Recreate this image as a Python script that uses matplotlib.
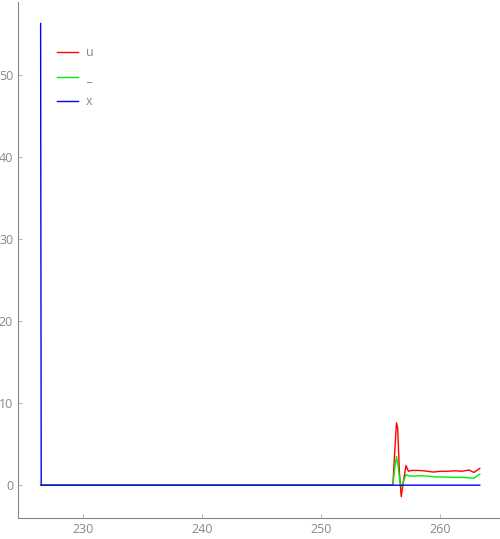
import matplotlib
matplotlib.use('Agg')
import matplotlib.pyplot as plt

# series values
u_x = [226.4, 256.0, 256.15, 256.3, 256.4, 256.55, 256.7, 256.9, 257.1, 257.3, 257.6,
       258.1, 258.6, 259.4, 260.0, 260.6, 261.2, 261.8, 262.4, 262.8, 263.0, 263.3]
u_y = [0, 0, 4.0, 7.6, 7.0, 1.5, -1.4, 0.6, 2.4, 1.7, 1.8,
       1.8, 1.75, 1.6, 1.7, 1.7, 1.75, 1.7, 1.85, 1.55, 1.75, 2.05]

g_x = [226.4, 256.0, 256.15, 256.3, 256.45, 256.6, 256.75, 256.9, 257.1, 257.3, 257.7,
       258.3, 259.0, 259.6, 260.2, 261.0, 261.8, 262.4, 262.8, 263.0, 263.3]
g_y = [0, 0, 2.0, 3.5, 2.2, 0.2, -0.2, 0.5, 1.3, 1.15, 1.1,
       1.15, 1.1, 1.0, 1.0, 0.95, 0.95, 0.9, 0.85, 1.05, 1.35]

x_x = [226.4, 226.45, 263.3]
x_y = [56.3, 0, 0]

labels = ['u', '_', 'x']
colors = ['#ff0000', '#00ee00', '#0000ff']

grey = '#888888'
plt.rcParams['font.family'] = ['Open Sans', 'DejaVu Sans']

fig = plt.figure(figsize=(5, 5.39), dpi=100)
ax = fig.add_axes([0.036, 0.039, 0.964, 0.957])

l1, = ax.plot(u_x, u_y, color=colors[0], lw=1)
l2, = ax.plot(g_x, g_y, color=colors[1], lw=1)
l3, = ax.plot(x_x, x_y, color=colors[2], lw=1)

ax.set_xlim(224.5, 265.0)
ax.set_ylim(-4.0, 58.9)
ax.set_xticks([230, 240, 250, 260])
ax.set_yticks([0, 10, 20, 30, 40, 50])

for side in ['top', 'right']:
    ax.spines[side].set_visible(False)
for side in ['left', 'bottom']:
    ax.spines[side].set_color(grey)
ax.tick_params(direction='in', length=3, color='#bbbbbb', labelcolor=grey, labelsize=9)

# "_" would be dropped by auto-labelling, so pass handles explicitly
leg = ax.legend([l1, l2, l3], labels, loc='upper left', bbox_to_anchor=(0.058, 0.936),
                frameon=False, handlelength=1.7, handletextpad=0.6, labelspacing=0.92,
                fontsize=9)
for t in leg.get_texts():
    t.set_color(grey)

fig.savefig('out.png', dpi=100)
